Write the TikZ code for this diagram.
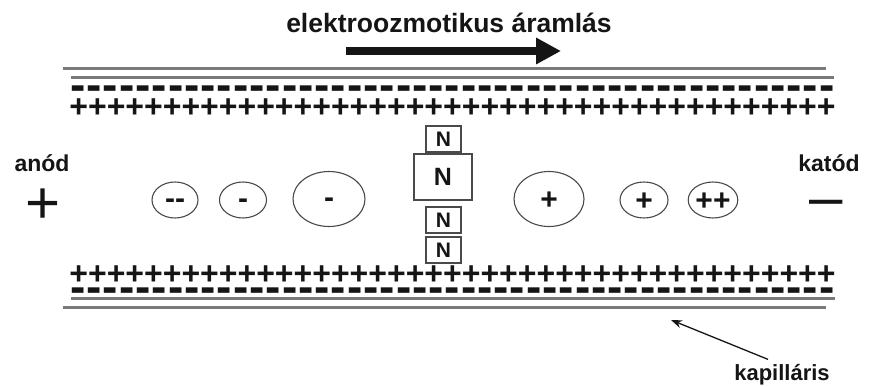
\documentclass[tikz,border=0pt]{standalone}
\usepackage{fontspec}
\setmainfont{Liberation Sans}
\usetikzlibrary{arrows.meta, positioning, shapes.geometric}
\definecolor{cwall}{HTML}{7A7A7A}
\definecolor{cink}{HTML}{151515}
\definecolor{cedge}{HTML}{4A4A4A}
\newcommand{\posrowtext}{\foreach \k in {1,...,41}{+}}
\newcommand{\negrowtext}{\foreach \k in {1,...,47}{-\kern0.96pt}}
\tikzset{
  every picture/.style={font=\bfseries, line width=1pt},
  wall/.style={draw=cwall, line width=3pt},
  posrow/.style={inner sep=0pt, anchor=base, text=cink, text height=16pt, text depth=0pt,
    font=\fontsize{32}{32}\selectfont\bfseries},
  negrow/.style={inner sep=0pt, anchor=base, text=cink,
    font=\fontsize{46}{46}\selectfont\bfseries},
  ion/.style={ellipse, draw=cedge, line width=1.1pt, inner sep=0pt, text=cink,
    text height=21.2pt, text depth=0pt, font=\fontsize{30}{30}\selectfont\bfseries},
  anion/.style={ion, text height=16.5pt},
  nbox/.style={draw=cedge, line width=1.3pt, inner sep=0pt, minimum width=35pt, minimum height=26pt,
    text=cink, font=\fontsize{21}{21}\selectfont\bfseries},
  tag/.style={font=\fontsize{23}{23}\selectfont\bfseries, text=cink, anchor=base, inner sep=0pt},
  pole/.style={inner sep=0pt, text=cink, text height=42.4pt, text depth=0pt,
    font=\fontsize{60}{60}\selectfont},
  flow/.style={-{Triangle[length=25pt, width=25pt]}, draw=cink, line width=8pt},
  pointer/.style={-{Stealth[length=11pt, width=8pt]}, draw=cink, line width=1.3pt},
}

\begin{document}
\begin{tikzpicture}[x=1pt, y=-1pt]
  \useasboundingbox (0,0) rectangle (874,387);
  \node[tag, font=\fontsize{26.5}{26.5}\selectfont\bfseries] (title) at (449,33) {elektroozmotikus áramlás};
  \coordinate (flowA) at (346,51); \coordinate (flowB) at (561,51);
  \draw[flow] (flowA) -- (flowB);
  % capillary wall with its charge layers
  \draw[wall] (63,69) -- (826,69) (71,78) -- (834,78);
  \draw[wall] (71,298) -- (835,298) (63,307) -- (826,307);
  \node[negrow] (negtop) at (453,100.6) {\negrowtext};
  \node[posrow] (postop) at (452.5,117.3) {\posrowtext};
  \node[posrow] (posbot) at (452.5,284.3) {\posrowtext};
  \node[negrow] (negbot) at (453,302.6) {\negrowtext};
  % electrodes
  \node[tag] (anod) at (42,172) {anód};
  \node[tag] (katod) at (829,172) {katód};
  \node[pole] (anodsign) at (43,202) {+};
  \node[pole, text height=31pt] (katodsign) at (826,202) {–};
  % ions and neutral molecules
  \node[anion, minimum width=46pt, minimum height=36pt] (i1) at (175,200) {-{}-};
  \node[anion, minimum width=47pt, minimum height=36pt] (i2) at (243,200) {-};
  \node[anion, minimum width=72pt, minimum height=55pt] (i3) at (329,199) {-};
  \node[ion, minimum width=70pt, minimum height=55pt] (i4) at (549,199) {+};
  \node[ion, minimum width=48pt, minimum height=36pt] (i5) at (644,200) {+};
  \node[ion, minimum width=47pt, minimum height=36pt] (i6) at (713,200) {++};
  \node[nbox] (n1) at (443.5,139) {N};
  \node[nbox, minimum width=58pt, minimum height=46pt, font=\fontsize{25}{25}\selectfont\bfseries] (n2) at (443,177) {N};
  \node[nbox] (n3) at (443.5,220) {N};
  \node[nbox] (n4) at (443.5,250) {N};
  \node[tag, font=\fontsize{22}{22}\selectfont\bfseries] (kap) at (782,380) {kapilláris};
  \coordinate (wallpt) at (671,320);
  \draw[pointer] ([xshift=-14pt, yshift=4pt]kap.north) -- (wallpt);
\end{tikzpicture}
\end{document}
